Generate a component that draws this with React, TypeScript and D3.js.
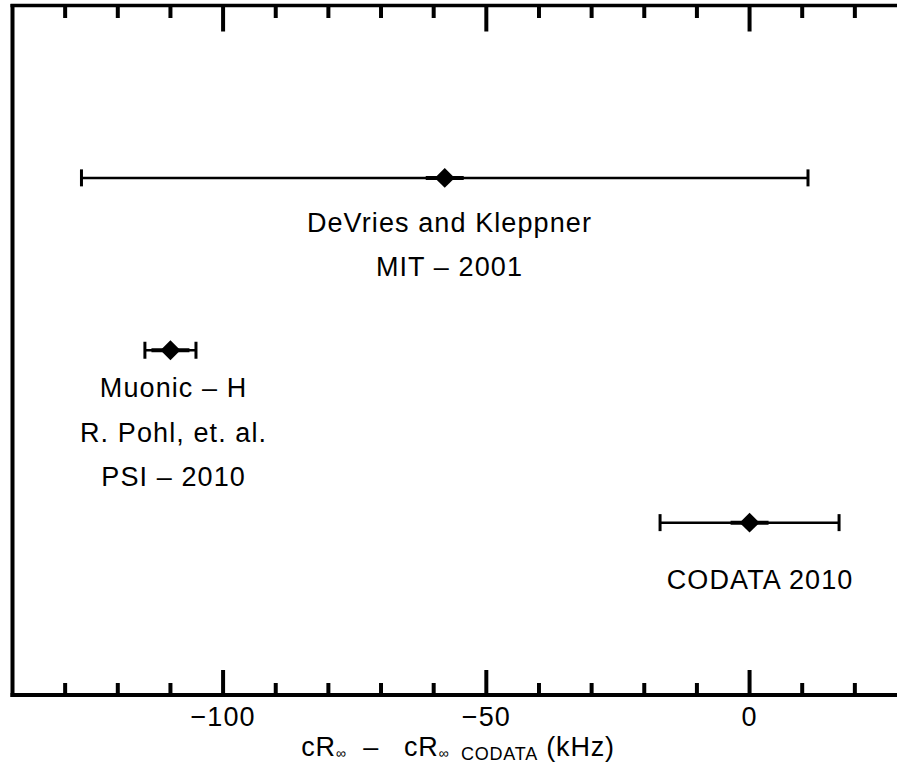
import React from "react";
import * as d3 from "d3";

const W = 897;
const H = 765;

// data
const experiments = ["DeVries and Kleppner", "Muonic – H", "CODATA 2010"];
const values = [-57.9, -110.0, 0.0];
const errors = [69.0, 4.85, 17.0];
const rowIndex = [0, 1, 2];

// annotations (data units)
const labelLines = [
  ["DeVries and Kleppner", "MIT – 2001"],
  ["Muonic – H", "R. Pohl, et. al.", "PSI – 2010"],
  ["CODATA 2010"],
];
const labelX = [-57.0, -109.4, 2.0];
const labelRow = [0.312, 1.272, 2.385];

const majorTicks = [-100, -50, 0];
const minorTicks = [-130, -120, -110, -90, -80, -70, -60, -40, -30, -20, -10, 10, 20];

export default function App() {
  const x = d3.scaleLinear().domain([-140, 30]).range([12.5, 907.5]);
  const y = d3.scaleLinear().domain([-1, 3]).range([5.5, 695]);
  const fmt = d3.format("d");
  const diamond = d3.symbol(d3.symbolSquare, 200)();
  const font = "'Liberation Sans', Arial, Helvetica, sans-serif";
  const yTop = y(-1);
  const yBot = y(3);
  const lineH = 44.5;
  const fs = 27;
  const ls = 1.1;

  return (
    <svg width={W} height={H} style={{ position: "absolute", left: 0, top: 0, background: "#fff" }} fontFamily={font}>
      <rect x={0} y={0} width={W} height={H} fill="#fff" />
      {/* axes frame */}
      <line x1={x(-140) - 2} x2={W} y1={yTop} y2={yTop} stroke="#000" strokeWidth={3.5} />
      <line x1={x(-140) - 2} x2={W} y1={yBot} y2={yBot} stroke="#000" strokeWidth={4} />
      <line x1={x(-140)} x2={x(-140)} y1={yTop - 1.5} y2={yBot + 2} stroke="#000" strokeWidth={4} />
      {/* ticks */}
      {majorTicks.map((t) => (
        <g key={"M" + t}>
          <line x1={x(t)} x2={x(t)} y1={yTop} y2={yTop + 26} stroke="#000" strokeWidth={4} />
          <line x1={x(t)} x2={x(t)} y1={yBot} y2={yBot - 25} stroke="#000" strokeWidth={4} />
          <text x={x(t)} y={yBot + 31} textAnchor="middle" fontSize={fs} letterSpacing={ls}>
            {fmt(t)}
          </text>
        </g>
      ))}
      {minorTicks.map((t) => (
        <g key={"m" + t}>
          <line x1={x(t)} x2={x(t)} y1={yTop} y2={yTop + 12.5} stroke="#000" strokeWidth={4} />
          <line x1={x(t)} x2={x(t)} y1={yBot} y2={yBot - 12} stroke="#000" strokeWidth={4} />
        </g>
      ))}
      {/* axis title */}
      <text x={458} y={756} textAnchor="middle" fontSize={fs} letterSpacing={0.8} style={{ whiteSpace: "pre" }}>
        <tspan>cR</tspan>
        <tspan fontSize={14} dy={2}>∞</tspan>
        <tspan dy={-2}>{"  –   "}</tspan>
        <tspan>cR</tspan>
        <tspan fontSize={14} dy={2}>∞</tspan>
        <tspan fontSize={18} dy={2}>{"  CODATA"}</tspan>
        <tspan dy={-4}>{" (kHz)"}</tspan>
      </text>
      {/* data */}
      {experiments.map((name, i) => {
        const cy = y(rowIndex[i]);
        const x0 = x(values[i] - errors[i]);
        const x1 = x(values[i] + errors[i]);
        const cx = x(values[i]);
        return (
          <g key={name}>
            <line x1={x0} x2={x1} y1={cy} y2={cy} stroke="#000" strokeWidth={2.5} />
            <line x1={x0} x2={x0} y1={cy - 8.5} y2={cy + 8.5} stroke="#000" strokeWidth={3} />
            <line x1={x1} x2={x1} y1={cy - 8.5} y2={cy + 8.5} stroke="#000" strokeWidth={3} />
            <line x1={Math.max(x0, cx - 19)} x2={Math.min(x1, cx + 19)} y1={cy} y2={cy} stroke="#000" strokeWidth={4} />
            <path d={diamond ?? ""} transform={`translate(${cx},${cy}) rotate(45)`} fill="#000" />
            {labelLines[i].map((ln, k) => (
              <text key={k} x={x(labelX[i])} y={y(labelRow[i]) + k * lineH} textAnchor="middle" fontSize={fs} letterSpacing={ls}>
                {ln}
              </text>
            ))}
          </g>
        );
      })}
    </svg>
  );
}
